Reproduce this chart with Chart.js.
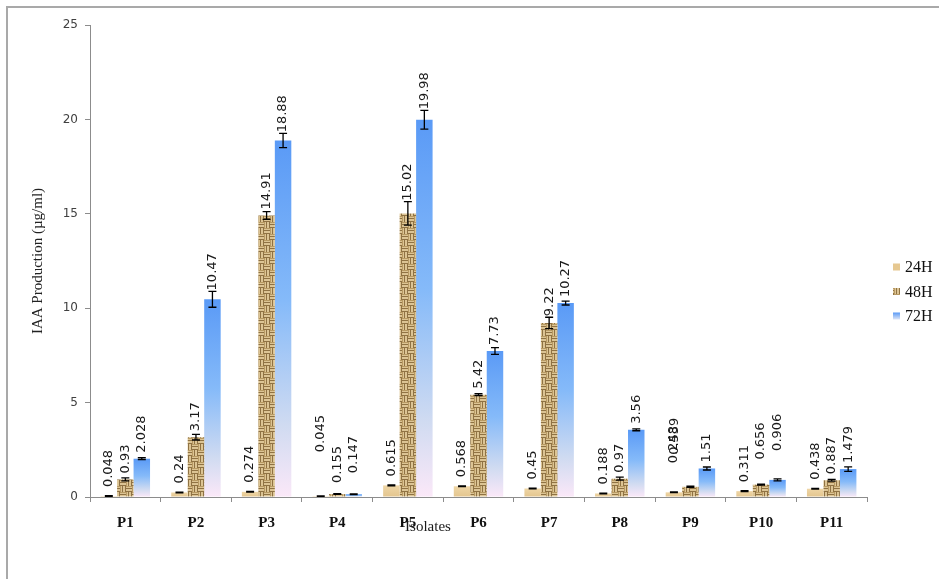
<!DOCTYPE html>
<html><head><meta charset="utf-8">
<script src="https://cdn.jsdelivr.net/npm/chart.js@4.4.1/dist/chart.umd.min.js"></script>
<style>
html,body{margin:0;padding:0;background:#fff;overflow:hidden}
#wrap{position:relative;width:939px;height:579px;overflow:hidden}
#frame{position:absolute;left:6px;top:6px;width:1000px;height:1000px;border-left:2px solid #a9a9a9;border-top:2px solid #a9a9a9}
canvas{position:absolute;left:0;top:0}
</style></head><body>
<div id="wrap"><div id="frame"></div><canvas id="c" width="939" height="579"></canvas></div>
<script>
// ---- data ----
const categories = ['P1','P2','P3','P4','P5','P6','P7','P8','P9','P10','P11'];
const seriesNames = ['24H','48H','72H'];
const values24 = [0.048, 0.24, 0.274, 0.045, 0.615, 0.568, 0.45, 0.188, 0.248, 0.311, 0.438];
const values48 = [0.93, 3.17, 14.91, 0.155, 15.02, 5.42, 9.22, 0.97, 0.539, 0.656, 0.887];
const values72 = [2.028, 10.47, 18.88, 0.147, 19.98, 7.73, 10.27, 3.56, 1.51, 0.906, 1.479];
const errors24 = [0.02, 0.02, 0.02, 0.01, 0.02, 0.02, 0.02, 0.02, 0.02, 0.02, 0.02];
const errors48 = [0.08, 0.15, 0.2, 0.02, 0.62, 0.05, 0.3, 0.08, 0.03, 0.03, 0.05];
const errors72 = [0.05, 0.42, 0.38, 0.02, 0.5, 0.18, 0.1, 0.05, 0.08, 0.05, 0.12];
const yTickValues = [0, 5, 10, 15, 20, 25];
const yTitle = 'IAA Production (µg/ml)';
const xTitle = 'Isolates';

// ---- styles ----
function weavePattern(){
  const c = document.createElement('canvas'); c.width = 12; c.height = 12;
  const g = c.getContext('2d');
  const light = '#dcc494', dark = '#8f7243';
  g.fillStyle = light; g.fillRect(0,0,12,12);
  g.fillStyle = dark;
  // horizontal-thread blocks (top-left, bottom-right)
  g.fillRect(0,2,6,1); g.fillRect(0,5,6,1);
  g.fillRect(6,8,6,1); g.fillRect(6,11,6,1);
  // vertical-thread blocks (top-right, bottom-left)
  g.fillRect(8,0,1,6); g.fillRect(11,0,1,6);
  g.fillRect(2,6,1,6); g.fillRect(5,6,1,6);
  g.fillStyle = '#b89a63';
  g.fillRect(0,0,6,1); g.fillRect(6,6,6,1);
  g.fillRect(6,0,1,6); g.fillRect(0,6,1,6);
  return g.createPattern(c, 'repeat');
}
const weave = weavePattern();

function barGradient(stops, fallback){
  return function(ctx){
    const chart = ctx.chart;
    if (!chart.chartArea || ctx.type !== 'data') return fallback;
    const y = chart.scales.y;
    const top = y.getPixelForValue(ctx.raw), base = y.getPixelForValue(0);
    if (base - top < 1) return stops[0][1];
    const gr = chart.ctx.createLinearGradient(0, top, 0, base);
    stops.forEach(s => gr.addColorStop(s[0], s[1]));
    return gr;
  };
}
const stops72 = [[0,'#5a9af6'],[0.45,'#85baf9'],[0.8,'#d0dbf1'],[1,'#fbe8f8']];
const stops24 = [[0,'#efd6a6'],[1,'#e3c58e']];

const errPlugin = {
  id: 'errLabels',
  afterDatasetsDraw(chart, args, opts){
    const ctx = chart.ctx, y = chart.scales.y;
    chart.data.datasets.forEach((ds, di) => {
      const meta = chart.getDatasetMeta(di);
      meta.data.forEach((bar, i) => {
        const v = ds.data[i], e = ds.errors[i];
        const x = bar.x;
        const yt = y.getPixelForValue(v + e), yb = y.getPixelForValue(Math.max(0, v - e));
        ctx.save();
        ctx.strokeStyle = '#000'; ctx.lineWidth = 1.3;
        ctx.beginPath();
        ctx.moveTo(x, yt); ctx.lineTo(x, yb);
        ctx.moveTo(x - 4, yt); ctx.lineTo(x + 4, yt);
        ctx.moveTo(x - 4, yb); ctx.lineTo(x + 4, yb);
        ctx.stroke();
        const nd = opts.nudges[di + '-' + i];
        let ly, lx = x;
        if (nd) { ly = bar.y - nd.gap; lx = x + (nd.dx || 0); }
        else ly = Math.min(bar.y - opts.gaps[di], yt - 1);
        ctx.translate(lx, ly);
        ctx.rotate(-Math.PI / 2);
        ctx.font = '13px "DejaVu Sans"';
        ctx.fillStyle = '#1a1a1a';
        ctx.textAlign = 'left'; ctx.textBaseline = 'middle';
        ctx.fillText(String(v), 0, 0);
        ctx.restore();
      });
    });
  },
  afterDraw(chart){
    const ctx = chart.ctx;
    ctx.save();
    // x title
    ctx.font = '15px "Liberation Serif"';
    ctx.fillStyle = '#1a1a1a';
    ctx.textAlign = 'center'; ctx.textBaseline = 'middle';
    ctx.fillText(xTitle, 428, 527);
    // legend
    const ly0 = 267, step = 24.5;
    chart.data.datasets.forEach((ds, di) => {
      const cy = ly0 + di * step;
      let fill;
      if (di === 0) fill = '#e6c891';
      else if (di === 1) fill = weave;
      else { fill = ctx.createLinearGradient(0, cy - 3.5, 0, cy + 3.5); fill.addColorStop(0,'#5a9af6'); fill.addColorStop(1,'#dfe6f6'); }
      ctx.fillStyle = fill;
      ctx.fillRect(893, cy - 3.5, 7, 7);
      ctx.fillStyle = '#111';
      ctx.font = '16px "Liberation Serif"';
      ctx.textAlign = 'left'; ctx.textBaseline = 'middle';
      ctx.fillText(ds.label, 905, cy + 1);
    });
    ctx.restore();
  }
};

new Chart(document.getElementById('c'), {
  type: 'bar',
  data: {
    labels: categories,
    datasets: [
      { label: seriesNames[0], data: values24, errors: errors24, backgroundColor: barGradient(stops24, '#e6c891') },
      { label: seriesNames[1], data: values48, errors: errors48, backgroundColor: weave },
      { label: seriesNames[2], data: values72, errors: errors72, backgroundColor: barGradient(stops72, '#6fa9f7') }
    ]
  },
  options: {
    responsive: false,
    animation: false,
    devicePixelRatio: 1,
    layout: { padding: { left: 14, top: 25, right: 72, bottom: 0 } },
    datasets: { bar: { categoryPercentage: 0.7, barPercentage: 1.0, borderWidth: 0 } },
    plugins: {
      legend: { display: false },
      tooltip: { enabled: false },
      errLabels: {
        gaps: [9, 6, 6],
        nudges: {
          '0-3': { gap: 44 }, '1-3': { gap: 11 }, '2-3': { gap: 21 },
          '0-8': { gap: 29 }, '1-8': { gap: 32, dx: -16 },
          '1-9': { gap: 25 }, '2-9': { gap: 29 }
        }
      }
    },
    scales: {
      x: {
        afterFit(s){ s.height = 82; },
        grid: { drawOnChartArea: false, drawTicks: true, tickLength: 5, offset: true, color: '#8c8c8c' },
        border: { display: true, color: '#8c8c8c', width: 1 },
        ticks: { font: { family: 'Liberation Serif', size: 15, weight: 'bold' }, color: '#111', padding: 12, maxRotation: 0 }
      },
      y: {
        min: 0, max: 25,
        afterFit(s){ s.width = 76; },
        afterBuildTicks(s){ s.ticks = yTickValues.map(v => ({ value: v })); },
        grid: { drawOnChartArea: false, drawTicks: true, tickLength: 5, color: '#8c8c8c' },
        border: { display: true, color: '#8c8c8c', width: 1 },
        ticks: { font: { family: 'DejaVu Sans', size: 12 }, color: '#404040', padding: 7 },
        title: { display: true, text: yTitle, font: { family: 'Liberation Serif', size: 15 }, color: '#222', padding: { top: 15, bottom: 0 } }
      }
    }
  },
  plugins: [errPlugin]
});
</script>
</body></html>
